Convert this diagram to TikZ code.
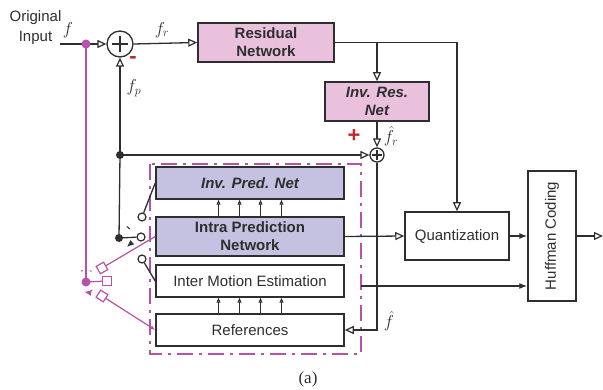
\documentclass[tikz,border=0pt]{standalone}
\usepackage{fontspec}
\setsansfont{Liberation Sans}
\newfontfamily\capfont{Liberation Serif}
\usepackage{amsmath}
\usetikzlibrary{arrows.meta,calc}

\definecolor{boxpink}{HTML}{E9C1DC}
\definecolor{boxblue}{HTML}{C4C1E1}
\definecolor{swmag}{HTML}{B751A9}
\definecolor{sgnred}{HTML}{C1272D}
\definecolor{ink}{HTML}{2E2E2E}

\tikzset{
  block/.style={draw=ink, line width=1.5pt, text=ink, align=center, inner sep=0pt,
    font=\sffamily\fontsize{15}{18}\selectfont},
  blockbf/.style={block, font=\sffamily\bfseries\fontsize{15}{18}\selectfont},
  blockbi/.style={block, font=\sffamily\bfseries\itshape\fontsize{15}{18}\selectfont},
  summer/.style={draw=ink, line width=1.3pt, circle, inner sep=0pt},
  wire/.style={draw=ink, line width=1.3pt},
  openarr/.style={-{Triangle[open,length=9pt,width=8pt,line width=1.2pt]}},
  smallarr/.style={-{Triangle[open,length=5pt,width=4pt,line width=1pt]}},
  fillarr/.style={-{Latex[length=8pt,width=6pt]}},
  lbl/.style={text=ink, inner sep=0pt, font=\fontsize{17}{20}\selectfont},
  sgn/.style={text=sgnred, inner sep=0pt, font=\sffamily\bfseries\fontsize{22}{22}\selectfont},
  term/.style={draw=ink, fill=white, line width=1.2pt, circle, minimum size=8pt, inner sep=0pt},
  mterm/.style={draw=swmag, fill=white, line width=1.2pt, rectangle, minimum size=8.5pt, inner sep=0pt},
  jdot/.style={circle, fill=ink, minimum size=8pt, inner sep=0pt},
  mdot/.style={circle, fill=swmag, minimum size=9pt, inner sep=0pt},
  mwire/.style={draw=swmag, line width=1.2pt},
}

\begin{document}
\begin{tikzpicture}[x=1pt, y=-1pt]
    \useasboundingbox (0,0) rectangle (603,390);

    % encoder blocks
    \node[blockbf, fill=boxpink, minimum width=136pt, minimum height=39pt] (res) at (266,42.5) {Residual\\Network};
    \node[blockbi, fill=boxpink, minimum width=104pt, minimum height=39pt] (invres) at (377,101.5) {Inv. Res.\\Net};
    \node[block, minimum width=104pt, minimum height=48pt] (quant) at (457,236) {Quantization};
    \node[block, minimum width=48pt, minimum height=130pt] (huff) at (552,236) {};
    \node[lbl, font=\sffamily\fontsize{15}{18}\selectfont, rotate=90] (hufftxt) at (huff.center) {Huffman Coding};

    % prediction blocks
    \draw[swmag, line width=2pt, dash pattern=on 16pt off 6pt on 3pt off 6pt] (150,164) rectangle (361,354);
    \node[blockbi, fill=boxblue, minimum width=188pt, minimum height=32pt] (invpred) at (250,183) {Inv. Pred. Net};
    \node[blockbf, fill=boxblue, minimum width=188pt, minimum height=39pt] (intra) at (250,236.5) {Intra Prediction\\Network};
    \node[block, minimum width=188pt, minimum height=32pt] (inter) at (250,281) {Inter Motion Estimation};
    \node[block, minimum width=188pt, minimum height=32pt] (refs) at (250,330) {References};

    % adders
    \node[summer, minimum size=26pt] (sum1) at (120,44) {};
    \draw[ink, line width=1.2pt] ($(sum1)+(-8,0)$) -- ($(sum1)+(8,0)$);
    \draw[ink, line width=1.2pt] ($(sum1)+(0,-8)$) -- ($(sum1)+(0,8)$);
    \node[summer, minimum size=14pt] (sum2) at (377,155) {};
    \draw[ink, line width=1.1pt] ($(sum2)+(-5,0)$) -- ($(sum2)+(5,0)$);
    \draw[ink, line width=1.1pt] ($(sum2)+(0,-5)$) -- ($(sum2)+(0,5)$);

    % input and labels
    \node[lbl, align=center, font=\sffamily\fontsize{15}{19.5}\selectfont] (orig) at (35.5,27.5) {Original\\Input};
    \coordinate (inp) at (60,44);
    \node[lbl] (lf) at (68,30) {$f$};
    \node[lbl] (lfr) at (162,30) {$f_r$};
    \node[lbl] (lfp) at (134,88) {$f_p$};
    \node[lbl] (lhfr) at (391,136) {$\hat{f}_r$};
    \node[lbl] (lhf) at (389,321) {$\hat{f}$};
    \node[sgn] (minus) at (133,60) {-};
    \node[sgn] (plus) at (354,136) {+};

    % main path
    \draw[wire, openarr] (inp) -- (sum1.west);
    \draw[wire, openarr] (sum1.east) -- (res.west);
    \draw[wire, openarr] (res.east) -| (quant.north);
    \draw[wire, openarr] (invres.north |- res.east) -- (invres.north);
    \draw[wire, openarr] (invres.south) -- (sum2.north);
    \draw[wire, openarr] (intra.east) -- (quant.west);
    \draw[wire, fillarr] (quant.east) -- (quant.east -| huff.west);
    \coordinate (hout) at (603,236);
    \draw[wire, openarr] (huff.east) -- (hout);
    \coordinate (mvout) at (361,286);
    \draw[wire, fillarr] (mvout) -- (mvout -| huff.west);
    \draw[wire, openarr] (sum2.south) |- (refs.east);

    % prediction feedback
    \node[jdot] (fpdot) at (120,155) {};
    \node[jdot] (pivot) at (119,238) {};
    \draw[wire, openarr] (fpdot.center) -- (sum1.south);
    \draw[wire, openarr] (fpdot.center) -- (sum2.west);
    \draw[wire] (fpdot.center) -- (pivot.center);

    % mode switch
    \node[term] (ttop) at (142,217) {};
    \node[term] (tmid) at (141,237) {};
    \node[term] (tbot) at (142,259) {};
    \draw[wire] (pivot.center) -- (tmid);
    \draw[wire] (ttop) -- (invpred.west);
    \draw[wire] (tbot) -- (inter.west);
    \draw[ink, line width=1pt] ([shift={(-56:14)}]pivot.center) arc (-56:-40:14);
    \draw[ink, line width=1pt, -{Latex[length=7pt,width=6pt]}] ([shift={(20:12)}]pivot.center) arc (20:48:12);

    % input switch
    \node[mdot] (mdot1) at (86,44) {};
    \node[mdot] (mpivot) at (86,282) {};
    \draw[mwire] (mdot1.center) -- (mpivot.center);
    \node[mterm, rotate=29] (mtop) at (102,268) {};
    \node[mterm] (mmid) at (107,281) {};
    \node[mterm, rotate=-33] (mbot) at (102,296) {};
    \draw[mwire] (mpivot.center) -- (mmid);
    \draw[mwire] (mtop) -- (intra.west);
    \draw[mwire, -{Latex[length=5pt,width=4pt]}] (mbot) -- (refs.west);
    \draw[swmag, line width=1pt, dash pattern=on 2pt off 2.5pt] ([shift={(-115:12)}]mpivot.center) arc (-115:-60:12);
    \draw[swmag, line width=1pt, dash pattern=on 2pt off 2.5pt, -{Latex[length=7pt,width=6pt]}] ([shift={(50:10)}]mpivot.center) arc (50:100:10);

    % small arrows between blocks
    \foreach \dx in {-31.5,-10.5,10.5,31.5} {
      \draw[wire, line width=1.1pt, smallarr] ($(intra.north)+(\dx,0)$) -- ($(invpred.south)+(\dx,0)$);
      \draw[wire, line width=1.1pt, smallarr] ($(refs.north)+(\dx,0)$) -- ($(inter.south)+(\dx,0)$);
    }

    \node[lbl, font=\capfont\fontsize{17}{19}\selectfont] (cap) at (308,379) {(a)};
\end{tikzpicture}
\end{document}
